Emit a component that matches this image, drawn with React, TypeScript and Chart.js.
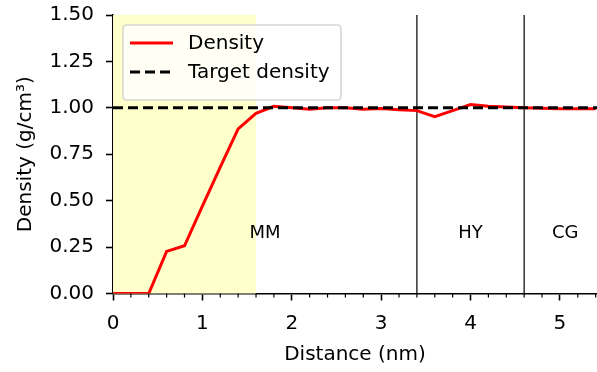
import React, { useEffect, useRef } from "react";
import { Chart, registerables } from "chart.js";

Chart.register(...registerables);

const distance = [0, 0.2, 0.4, 0.6, 0.8, 1.0, 1.2, 1.4, 1.6, 1.8, 2.0, 2.2, 2.4, 2.6, 2.8, 3.0, 3.2, 3.4, 3.6, 3.8, 4.0, 4.2, 4.4, 4.6, 4.8, 5.0, 5.2, 5.4];
const density = [0, 0, 0, 0.227, 0.257, 0.47, 0.68, 0.887, 0.97, 1.008, 1.0, 0.993, 1.0, 1.0, 0.993, 0.997, 0.99, 0.985, 0.953, 0.985, 1.018, 1.008, 1.005, 1.0, 0.998, 0.995, 0.995, 0.995];
const targetDensity = 1.0;
const xMin = 0;
const xMax = 5.415;
const yMin = 0;
const yMax = 1.5;
const boundaries = [3.4, 4.6];
const shadedRegion = [0, 1.6];
const regionLabels = ["MM", "HY", "CG"];
const regionLabelX = [1.7, 4.0, 5.06];
const regionLabelY = 0.3;
const minorStep = 0.2;

const FONT = "DejaVu Sans";
const FS = 20;
const FS_REGION = 18;

export default function App() {
  const ref = useRef<HTMLCanvasElement | null>(null);

  useEffect(() => {
    const canvas = ref.current;
    if (!canvas) return;

    const bgPlugin = {
      id: "bgShade",
      beforeDatasetsDraw(chart: any) {
        const { ctx, chartArea, scales } = chart;
        const x0 = scales.x.getPixelForValue(shadedRegion[0]);
        const x1 = scales.x.getPixelForValue(shadedRegion[1]);
        ctx.save();
        ctx.fillStyle = "#ffffcc";
        ctx.fillRect(x0, chartArea.top, x1 - x0, chartArea.bottom - chartArea.top);
        ctx.fillStyle = "#000";
        ctx.font = `${FS_REGION}px "${FONT}"`;
        ctx.textAlign = "center";
        ctx.textBaseline = "alphabetic";
        regionLabels.forEach((t, i) => {
          ctx.fillText(t, scales.x.getPixelForValue(regionLabelX[i]), scales.y.getPixelForValue(regionLabelY));
        });
        ctx.restore();
      },
      afterDraw(chart: any) {
        const { ctx, scales } = chart;
        const xs = scales.x;
        const yb = xs.top;
        ctx.save();
        ctx.strokeStyle = "#000";
        ctx.lineWidth = 1.2;
        for (let v = minorStep; v <= xMax + 1e-9; v += minorStep) {
          const r = Math.round(v * 10) / 10;
          if (Math.abs(r - Math.round(r)) < 1e-6) continue;
          const px = xs.getPixelForValue(r);
          ctx.beginPath();
          ctx.moveTo(px, yb);
          ctx.lineTo(px, yb + 4);
          ctx.stroke();
        }
        const lx = 123, ly = 25, lw = 218, lh = 75, rad = 4;
        ctx.beginPath();
        ctx.moveTo(lx + rad, ly);
        ctx.lineTo(lx + lw - rad, ly);
        ctx.quadraticCurveTo(lx + lw, ly, lx + lw, ly + rad);
        ctx.lineTo(lx + lw, ly + lh - rad);
        ctx.quadraticCurveTo(lx + lw, ly + lh, lx + lw - rad, ly + lh);
        ctx.lineTo(lx + rad, ly + lh);
        ctx.quadraticCurveTo(lx, ly + lh, lx, ly + lh - rad);
        ctx.lineTo(lx, ly + rad);
        ctx.quadraticCurveTo(lx, ly, lx + rad, ly);
        ctx.closePath();
        ctx.fillStyle = "rgba(255,255,255,0.8)";
        ctx.fill();
        ctx.strokeStyle = "rgba(204,204,204,0.8)";
        ctx.lineWidth = 1.6;
        ctx.stroke();
        const ds = chart.data.datasets;
        const rows = [43, 72];
        ctx.font = `${FS}px "${FONT}"`;
        ctx.textAlign = "left";
        ctx.textBaseline = "middle";
        [0, 1].forEach((i) => {
          const d = ds[i];
          ctx.beginPath();
          ctx.setLineDash(d.borderDash || []);
          ctx.strokeStyle = d.borderColor;
          ctx.lineWidth = d.borderWidth;
          ctx.moveTo(130, rows[i]);
          ctx.lineTo(173, rows[i]);
          ctx.stroke();
          ctx.setLineDash([]);
          ctx.fillStyle = "#000";
          ctx.fillText(d.label, 188, rows[i] + 1);
        });
        ctx.restore();
      },
    };

    const chart = new Chart(canvas, {
      type: "line",
      data: {
        datasets: [
          {
            label: "Density",
            data: distance.map((x, i) => ({ x, y: density[i] })),
            borderColor: "#ff0000",
            borderWidth: 3,
            pointRadius: 0,
            tension: 0,
            order: 1,
          },
          {
            label: "Target density",
            data: [
              { x: xMin, y: targetDensity },
              { x: xMax, y: targetDensity },
            ],
            borderColor: "#000000",
            borderWidth: 3,
            borderDash: [10, 5],
            pointRadius: 0,
            order: 0,
          },
          ...boundaries.map((b) => ({
            label: "boundary",
            data: [
              { x: b, y: yMin },
              { x: b, y: yMax },
            ],
            borderColor: "#000000",
            borderWidth: 1.2,
            pointRadius: 0,
            order: 2,
          })),
        ],
      },
      options: {
        responsive: false,
        animation: false,
        devicePixelRatio: 1,
        layout: { padding: { top: 15, right: 0, bottom: 0, left: 0 } },
        plugins: { legend: { display: false }, tooltip: { enabled: false } },
        scales: {
          x: {
            type: "linear",
            min: xMin,
            max: xMax,
            afterFit(scale: any) {
              scale.height = 78.5;
              scale.paddingLeft = 0;
              scale.paddingRight = 0;
            },
            ticks: {
              stepSize: 1,
              includeBounds: false,
              color: "#000",
              font: { family: FONT, size: FS },
              padding: 11,
              maxRotation: 0,
              callback: (v: any) => String(v),
            },
            grid: {
              display: true,
              drawOnChartArea: false,
              drawTicks: true,
              tickLength: 7,
              tickWidth: 1.6,
              tickColor: "#000",
            },
            border: { display: true, color: "#000", width: 1.6 },
            title: {
              display: true,
              text: "Distance (nm)",
              color: "#000",
              font: { family: FONT, size: FS },
              padding: { top: 0, bottom: 5 },
            },
          },
          y: {
            type: "linear",
            min: yMin,
            max: yMax,
            afterFit(scale: any) {
              scale.width = 113;
              scale.paddingTop = 0;
              scale.paddingBottom = 0;
            },
            ticks: {
              stepSize: 0.25,
              color: "#000",
              font: { family: FONT, size: FS },
              padding: 12,
              callback: (v: any) => Number(v).toFixed(2),
            },
            grid: {
              display: true,
              drawOnChartArea: false,
              drawTicks: true,
              tickLength: 7,
              tickWidth: 1.6,
              tickColor: "#000",
            },
            border: { display: true, color: "#000", width: 1.6 },
            title: {
              display: true,
              text: "Density (g/cm³)",
              color: "#000",
              font: { family: FONT, size: FS },
              padding: { top: 14, bottom: 0 },
            },
          },
        },
      },
      plugins: [bgPlugin],
    } as any);

    return () => chart.destroy();
  }, []);

  return (
    <div style={{ position: "fixed", left: 0, top: 0, width: 597, height: 372, background: "#fff" }}>
      <canvas ref={ref} width={597} height={372} style={{ display: "block", width: 597, height: 372 }} />
    </div>
  );
}
